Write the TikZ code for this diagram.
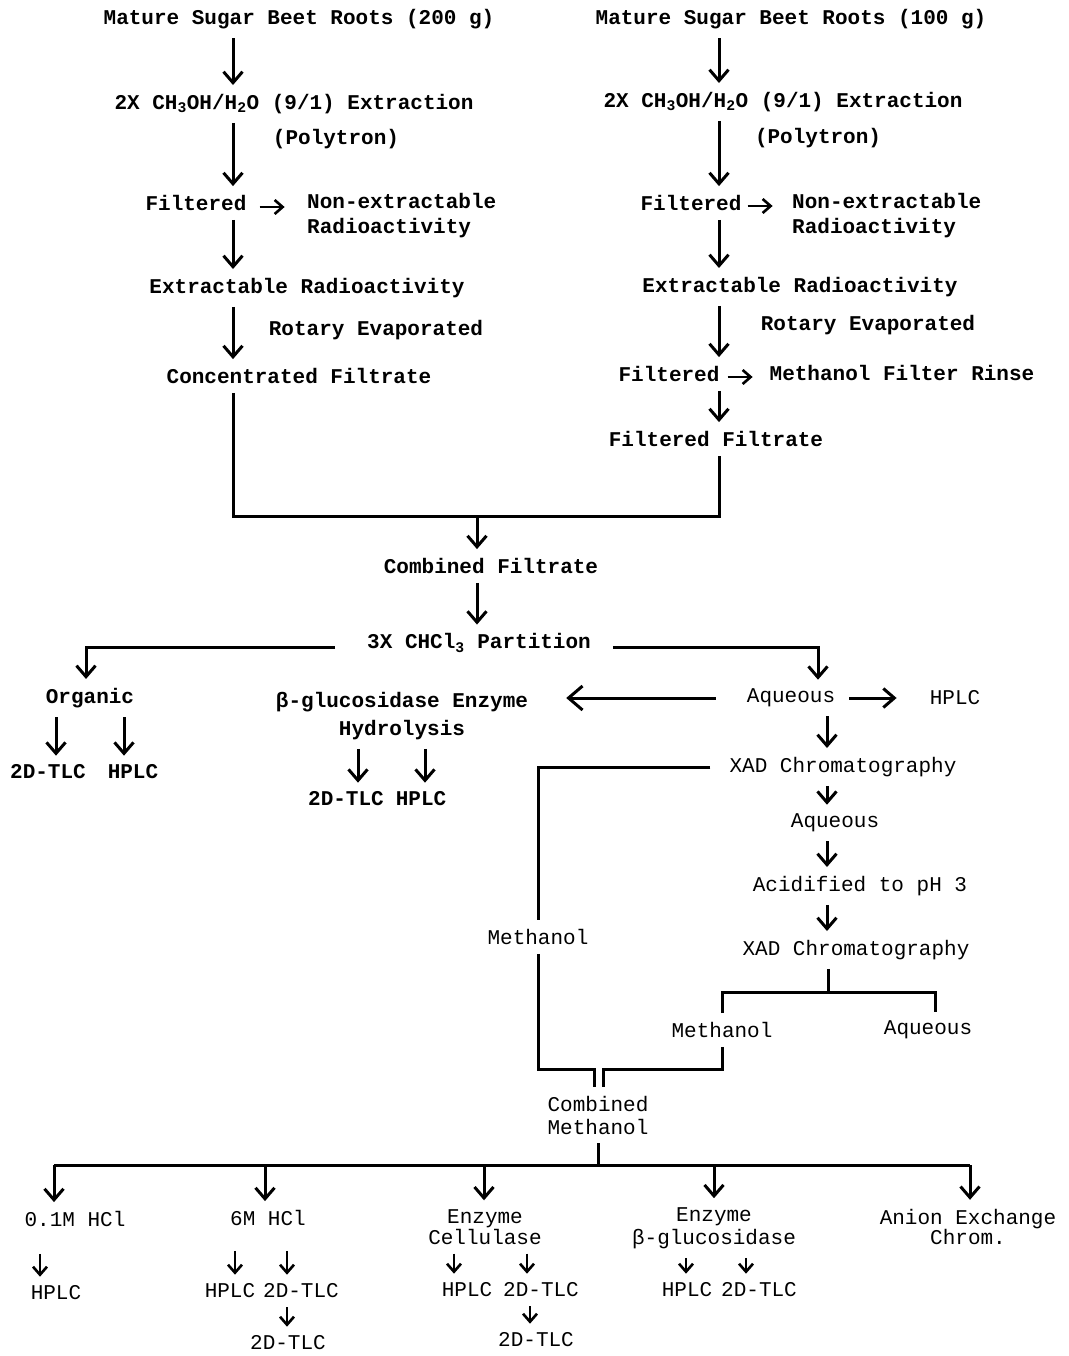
\documentclass[tikz,border=0pt]{standalone}
\usepackage{fontspec}
\setmainfont{Liberation Mono}
\usetikzlibrary{arrows.meta}
\newcommand\labsize{\fontsize{21}{25}\selectfont}
\newcommand\labsizeb{\fontsize{21}{21}\selectfont}
\tikzset{
  lab/.style={font=\labsize\bfseries, inner xsep=2pt, inner ysep=9pt},
  labr/.style={font=\labsize, inner xsep=2pt, inner ysep=9pt},
  labb/.style={font=\labsizeb, inner xsep=2pt, inner ysep=9pt},
  line/.style={draw, line width=3pt},
  arr/.style={line, -{Straight Barb[length=11pt,width=19pt]}},
  barr/.style={line, -{Straight Barb[length=14pt,width=24pt]}},
  sarr/.style={line, line width=2.6pt, -{Straight Barb[length=8pt,width=14pt]}},
}
\begin{document}
\begin{tikzpicture}[x=1pt,y=-1pt]
  \useasboundingbox (0,0) rectangle (1068,1356);
  % column positions
  \coordinate (colL) at (233,0);
  \coordinate (colR) at (719,0);
  \coordinate (colA) at (827,0);
  \coordinate (join) at (477,516);
  \coordinate (sp) at (828,992);
  \coordinate (jl) at (594,1069);
  \coordinate (jr) at (603,1069);

  % left extraction (200 g)
  \node[lab] (roots1) at (299,19) {Mature Sugar Beet Roots (200 g)};
  \node[lab] (extr1) at (294,104) {2X CH\textsubscript{3}OH/H\textsubscript{2}O (9/1) Extraction};
  \node[lab] (poly1) at (336,139) {(Polytron)};
  \node[lab] (filt1) at (196,203) {Filtered};
  \node[lab,anchor=west,align=left] (nonex1) at (305,216) {Non-extractable\\Radioactivity};
  \node[lab] (extab1) at (307,288) {Extractable Radioactivity};
  \node[lab] (rot1) at (376,330) {Rotary Evaporated};
  \node[lab] (conc1) at (299,376) {Concentrated Filtrate};

  % right extraction (100 g)
  \node[lab] (roots2) at (791,19) {Mature Sugar Beet Roots (100 g)};
  \node[lab] (extr2) at (783,102) {2X CH\textsubscript{3}OH/H\textsubscript{2}O (9/1) Extraction};
  \node[lab] (poly2) at (818,138) {(Polytron)};
  \node[lab] (filt2) at (691,203) {Filtered};
  \node[lab,anchor=west,align=left] (nonex2) at (790,216) {Non-extractable\\Radioactivity};
  \node[lab] (extab2) at (800,287) {Extractable Radioactivity};
  \node[lab] (rot2) at (868,325) {Rotary Evaporated};
  \node[lab] (filt3) at (669,374) {Filtered};
  \node[lab] (rinse) at (902,373) {Methanol Filter Rinse};
  \node[lab] (ffilt) at (716,439) {Filtered Filtrate};

  % partition
  \node[lab] (comb) at (491,566) {Combined Filtrate};
  \node[lab] (part) at (479,643) {3X CHCl\textsubscript{3} Partition};
  \node[lab] (org) at (90,698) {Organic};
  \node[lab] (otlc) at (48,772) {2D-TLC};
  \node[lab] (ohplc) at (133,772) {HPLC};
  \node[lab,align=center,font=\fontsize{21}{28}\selectfont\bfseries] (gluc) at (402,716) {β-glucosidase Enzyme\\Hydrolysis};
  \node[lab] (gtlc) at (346,799) {2D-TLC};
  \node[lab] (ghplc) at (421,799) {HPLC};
  \node[labr] (aq1) at (791,698) {Aqueous};
  \node[labr] (hplc1) at (955,698) {HPLC};
  \node[labr] (xad1) at (843,767) {XAD Chromatography};
  \node[labr] (aq2) at (835,823) {Aqueous};
  \node[labr] (acid) at (860,886) {Acidified to pH 3};
  \node[labr] (xad2) at (856,950) {XAD Chromatography};
  \node[labr] (meth1) at (538,937) {Methanol};
  \node[labr] (meth2) at (722,1030) {Methanol};
  \node[labr] (aq3) at (928,1030) {Aqueous};
  \node[labr,align=center,font=\fontsize{21}{23}\selectfont] (cmeth) at (598,1115) {Combined\\Methanol};

  % hydrolysis branches
  \node[labb] (hcl1) at (75,1219) {0.1M HCl};
  \node[labb] (hcl6) at (268,1218) {6M HCl};
  \node[labb,align=center] (cell) at (485,1227) {Enzyme\\Cellulase};
  \node[labb,align=center,font=\fontsize{21}{23}\selectfont] (bglu) at (714,1228) {Enzyme\\β-glucosidase};
  \node[labb,align=center,font=\fontsize{21}{18}\selectfont] (anion) at (968,1227) {Anion Exchange\\Chrom.};
  \node[labb] (h1) at (56,1293) {HPLC};
  \node[labb] (h6) at (230,1291) {HPLC};
  \node[labb] (t6) at (301,1291) {2D-TLC};
  \node[labb] (t6b) at (288,1343) {2D-TLC};
  \node[labb] (hc) at (467,1290) {HPLC};
  \node[labb] (tc) at (541,1290) {2D-TLC};
  \node[labb] (tcb) at (536,1340) {2D-TLC};
  \node[labb] (hb) at (687,1290) {HPLC};
  \node[labb] (tb) at (759,1290) {2D-TLC};

  % connectors, left column
  \draw[arr] (roots1.south -| colL) -- (extr1.north -| colL);
  \draw[arr] (extr1.south -| colL) -- (filt1.north -| colL);
  \draw[arr] (filt1.south -| colL) -- (extab1.north -| colL);
  \draw[arr] (extab1.south -| colL) -- (conc1.north -| colL);
  \draw[sarr] ([xshift=11pt,yshift=-4pt]filt1.east) -- ([xshift=36pt,yshift=-4pt]filt1.east);

  % connectors, right column
  \draw[arr] (roots2.south -| colR) -- (extr2.north -| colR);
  \draw[arr] (extr2.south -| colR) -- (filt2.north -| colR);
  \draw[arr] (filt2.south -| colR) -- (extab2.north -| colR);
  \draw[arr] (extab2.south -| colR) -- (filt3.north -| colR);
  \draw[arr] (filt3.south -| colR) -- (ffilt.north -| colR);
  \draw[sarr] ([xshift=4pt,yshift=-3pt]filt2.east) -- ([xshift=29pt,yshift=-3pt]filt2.east);
  \draw[sarr] ([xshift=6pt,yshift=-3pt]filt3.east) -- ([xshift=31pt,yshift=-3pt]filt3.east);

  % combining the filtrates
  \draw[line] (conc1.south -| colL) |- (join) -| (ffilt.south -| colR);
  \draw[arr] (join) -- (comb.north -| join);
  \draw[arr] (comb.south -| join) -- (part.north -| join);

  % partition
  \draw[arr] ([xshift=-30pt,yshift=-4pt]part.west) -| ([xshift=-4pt]org.north);
  \draw[arr] ([xshift=20pt,yshift=-4pt]part.east) -| ([xshift=27pt]aq1.north);
  \draw[arr] (org.south -| 56,0) -- (otlc.north -| 56,0);
  \draw[arr] (org.south -| 124,0) -- (ohplc.north -| 124,0);
  \draw[arr] (gluc.south -| 358,0) -- (gtlc.north -| 358,0);
  \draw[arr] (gluc.south -| 425,0) -- (ghplc.north -| 425,0);
  \draw[barr] ([xshift=-29pt]aq1.west) -- ([xshift=36pt]gluc.east |- aq1.west);
  \draw[arr] ([xshift=12pt]aq1.east) -- ([xshift=-31pt]hplc1.west);
  \draw[arr] (aq1.south -| colA) -- (xad1.north -| colA);

  % XAD chromatography
  \draw[line] ([xshift=-17pt]xad1.west) -| (meth1.north);
  \draw[arr] (xad1.south -| colA) -- (aq2.north -| colA);
  \draw[arr] (aq2.south -| colA) -- (acid.north -| colA);
  \draw[arr] (acid.south -| colA) -- (xad2.north -| colA);
  \draw[line] (xad2.south -| sp) -- (sp);
  \draw[line] (meth2.north) |- (sp) -| ([xshift=7pt]aq3.north);
  \draw[line] (meth1.south) |- (jl) -- (jl |- cmeth.north);
  \draw[line] (meth2.south) |- (jr) -- (jr |- cmeth.north);

  % hydrolysis of combined methanol
  \coordinate (b1) at (54,1165);
  \coordinate (b5) at (970,1165);
  \draw[line] (cmeth.south) -- (cmeth.south |- b1);
  \draw[line] (b1) -- (b5);
  \foreach \x/\n in {54/hcl1, 265/hcl6, 484/cell, 714/bglu, 970/anion}
    \draw[arr] (\x,1165) -- (\n.north -| \x,0);
  \draw[sarr, shorten <=18pt] (hcl1.south -| 40,0) -- (h1.north -| 40,0);
  \draw[sarr, shorten <=16pt] (hcl6.south -| 235,0) -- (h6.north -| 235,0);
  \draw[sarr, shorten <=16pt] (hcl6.south -| 287,0) -- (t6.north -| 287,0);
  \draw[sarr] (t6.south -| 287,0) -- (t6b.north -| 287,0);
  \draw[sarr] (cell.south -| 454,0) -- (hc.north -| 454,0);
  \draw[sarr] (cell.south -| 527,0) -- (tc.north -| 527,0);
  \draw[sarr] (tc.south -| 530,0) -- (tcb.north -| 530,0);
  \draw[sarr] (bglu.south -| 686,0) -- (hb.north -| 686,0);
  \draw[sarr] (bglu.south -| 746,0) -- (tb.north -| 746,0);
\end{tikzpicture}
\end{document}
